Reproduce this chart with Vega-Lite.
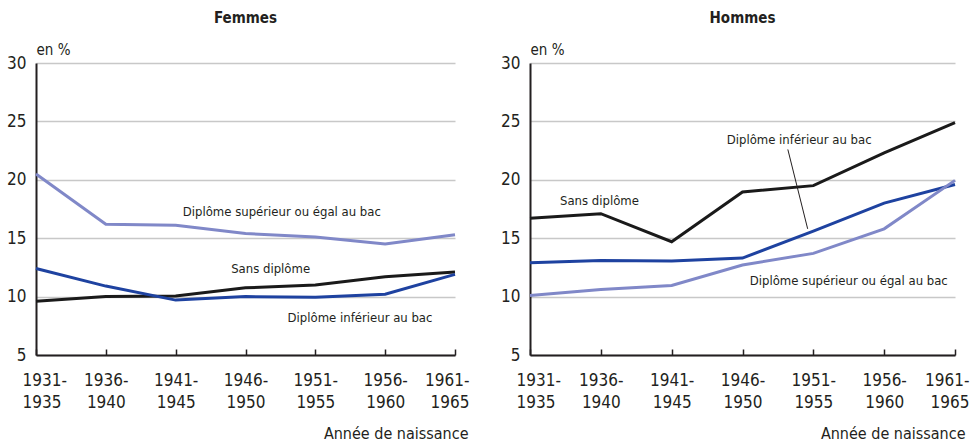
{
  "$schema": "https://vega.github.io/schema/vega-lite/v6.json",
  "background": "white",
  "padding": {"left": 6, "top": 11, "right": 5, "bottom": 0},
  "bounds": "flush",
  "spacing": 75,
  "config": {
    "font": "DejaVu Sans Condensed, Liberation Sans, sans-serif",
    "view": {"stroke": null},
    "axis": {"labelColor": "#231f20", "titleColor": "#231f20", "labelFont": "DejaVu Sans Condensed, Liberation Sans, sans-serif", "titleFont": "DejaVu Sans Condensed, Liberation Sans, sans-serif"},
    "title": {"font": "DejaVu Sans Condensed, Liberation Sans, sans-serif", "color": "#231f20"},
    "text": {"font": "DejaVu Sans Condensed, Liberation Sans, sans-serif"}
  },
  "datasets": {
    "series": [
      {"sexe": "Femmes", "diplome": "Sans diplôme", "annee": 1931, "taux": 9.6},
      {"sexe": "Femmes", "diplome": "Sans diplôme", "annee": 1936, "taux": 10.0},
      {"sexe": "Femmes", "diplome": "Sans diplôme", "annee": 1941, "taux": 10.05},
      {"sexe": "Femmes", "diplome": "Sans diplôme", "annee": 1946, "taux": 10.75},
      {"sexe": "Femmes", "diplome": "Sans diplôme", "annee": 1951, "taux": 11.0},
      {"sexe": "Femmes", "diplome": "Sans diplôme", "annee": 1956, "taux": 11.7},
      {"sexe": "Femmes", "diplome": "Sans diplôme", "annee": 1961, "taux": 12.1},
      {"sexe": "Femmes", "diplome": "Diplôme inférieur au bac", "annee": 1931, "taux": 12.4},
      {"sexe": "Femmes", "diplome": "Diplôme inférieur au bac", "annee": 1936, "taux": 10.9},
      {"sexe": "Femmes", "diplome": "Diplôme inférieur au bac", "annee": 1941, "taux": 9.7},
      {"sexe": "Femmes", "diplome": "Diplôme inférieur au bac", "annee": 1946, "taux": 10.0},
      {"sexe": "Femmes", "diplome": "Diplôme inférieur au bac", "annee": 1951, "taux": 9.95},
      {"sexe": "Femmes", "diplome": "Diplôme inférieur au bac", "annee": 1956, "taux": 10.2},
      {"sexe": "Femmes", "diplome": "Diplôme inférieur au bac", "annee": 1961, "taux": 11.9},
      {"sexe": "Femmes", "diplome": "Diplôme supérieur ou égal au bac", "annee": 1931, "taux": 20.5},
      {"sexe": "Femmes", "diplome": "Diplôme supérieur ou égal au bac", "annee": 1936, "taux": 16.2},
      {"sexe": "Femmes", "diplome": "Diplôme supérieur ou égal au bac", "annee": 1941, "taux": 16.1},
      {"sexe": "Femmes", "diplome": "Diplôme supérieur ou égal au bac", "annee": 1946, "taux": 15.4},
      {"sexe": "Femmes", "diplome": "Diplôme supérieur ou égal au bac", "annee": 1951, "taux": 15.1},
      {"sexe": "Femmes", "diplome": "Diplôme supérieur ou égal au bac", "annee": 1956, "taux": 14.5},
      {"sexe": "Femmes", "diplome": "Diplôme supérieur ou égal au bac", "annee": 1961, "taux": 15.3},
      {"sexe": "Hommes", "diplome": "Sans diplôme", "annee": 1931, "taux": 16.7},
      {"sexe": "Hommes", "diplome": "Sans diplôme", "annee": 1936, "taux": 17.1},
      {"sexe": "Hommes", "diplome": "Sans diplôme", "annee": 1941, "taux": 14.7},
      {"sexe": "Hommes", "diplome": "Sans diplôme", "annee": 1946, "taux": 18.95},
      {"sexe": "Hommes", "diplome": "Sans diplôme", "annee": 1951, "taux": 19.5},
      {"sexe": "Hommes", "diplome": "Sans diplôme", "annee": 1956, "taux": 22.3},
      {"sexe": "Hommes", "diplome": "Sans diplôme", "annee": 1961, "taux": 24.9},
      {"sexe": "Hommes", "diplome": "Diplôme inférieur au bac", "annee": 1931, "taux": 12.9},
      {"sexe": "Hommes", "diplome": "Diplôme inférieur au bac", "annee": 1936, "taux": 13.1},
      {"sexe": "Hommes", "diplome": "Diplôme inférieur au bac", "annee": 1941, "taux": 13.05},
      {"sexe": "Hommes", "diplome": "Diplôme inférieur au bac", "annee": 1946, "taux": 13.3},
      {"sexe": "Hommes", "diplome": "Diplôme inférieur au bac", "annee": 1951, "taux": 15.6},
      {"sexe": "Hommes", "diplome": "Diplôme inférieur au bac", "annee": 1956, "taux": 18.0},
      {"sexe": "Hommes", "diplome": "Diplôme inférieur au bac", "annee": 1961, "taux": 19.6},
      {"sexe": "Hommes", "diplome": "Diplôme supérieur ou égal au bac", "annee": 1931, "taux": 10.1},
      {"sexe": "Hommes", "diplome": "Diplôme supérieur ou égal au bac", "annee": 1936, "taux": 10.6},
      {"sexe": "Hommes", "diplome": "Diplôme supérieur ou égal au bac", "annee": 1941, "taux": 10.95},
      {"sexe": "Hommes", "diplome": "Diplôme supérieur ou égal au bac", "annee": 1946, "taux": 12.7},
      {"sexe": "Hommes", "diplome": "Diplôme supérieur ou égal au bac", "annee": 1951, "taux": 13.7},
      {"sexe": "Hommes", "diplome": "Diplôme supérieur ou égal au bac", "annee": 1956, "taux": 15.8},
      {"sexe": "Hommes", "diplome": "Diplôme supérieur ou égal au bac", "annee": 1961, "taux": 19.95}
    ],
    "notes": [
      {"sexe": "Femmes", "texte": "Diplôme supérieur ou égal au bac", "nx": 1948.6, "ny": 17.25},
      {"sexe": "Femmes", "texte": "Sans diplôme", "nx": 1947.8, "ny": 12.4},
      {"sexe": "Femmes", "texte": "Diplôme inférieur au bac", "nx": 1954.2, "ny": 8.15},
      {"sexe": "Hommes", "texte": "Sans diplôme", "nx": 1935.9, "ny": 18.2},
      {"sexe": "Hommes", "texte": "Diplôme inférieur au bac", "nx": 1950.0, "ny": 23.45},
      {"sexe": "Hommes", "texte": "Diplôme supérieur ou égal au bac", "nx": 1953.5, "ny": 11.3}
    ],
    "leaders": [
      {"sexe": "Hommes", "x1": 1949.2, "y1": 22.6, "x2": 1950.6, "y2": 15.8}
    ]
  },
  "hconcat": [
    {
      "width": 419,
      "height": 292,
      "title": {"text": "Femmes", "fontSize": 15, "fontWeight": "bold", "anchor": "middle", "offset": 16},
      "layer": [
        {
          "data": {"name": "series"},
          "transform": [{"filter": "datum.sexe === 'Femmes'"}],
          "mark": {"type": "line", "strokeWidth": 3},
          "encoding": {
            "x": {"field": "annee", "type": "quantitative", "scale": {"domain": [1931, 1961], "nice": false, "zero": false},
              "axis": {"values": [1931, 1936, 1941, 1946, 1951, 1956, 1961], "labelExpr": "[datum.value + '-', '' + (datum.value + 4)]", "labelFontSize": 17, "labelLineHeight": 22, "labelFlush": true, "labelFlushOffset": 14, "labelPadding": 23, "tickSize": -6, "tickColor": "#231f20", "tickWidth": 1.5, "domainColor": "#231f20", "domainWidth": 2, "grid": false, "zindex": 1, "title": "Année de naissance", "titleFontSize": 16, "titleFontWeight": "normal", "titleAnchor": "end", "titleAlign": "right", "titleX": 432, "titleY": 83, "titleBaseline": "alphabetic"}},
            "y": {"field": "taux", "type": "quantitative", "scale": {"domain": [5, 30], "nice": false, "zero": false},
              "axis": {"values": [5, 10, 15, 20, 25, 30], "labelFontSize": 17, "labelPadding": 10, "ticks": false, "tickSize": 0, "domainColor": "#231f20", "domainWidth": 2, "grid": true, "gridColor": "#c8c8c8", "gridWidth": 1.3, "title": "en %", "titleAngle": 0, "titleFontSize": 15, "titleFontWeight": "normal", "titleAlign": "left", "titleX": 0, "titleY": -9, "titleBaseline": "alphabetic"}},
            "color": {"field": "diplome", "type": "nominal", "legend": null,
              "scale": {"domain": ["Sans diplôme", "Diplôme inférieur au bac", "Diplôme supérieur ou égal au bac"], "range": ["#1a1a1a", "#1e42a0", "#8088c8"]}}
          }
        },
        {
          "data": {"name": "notes"},
          "transform": [{"filter": "datum.sexe === 'Femmes'"}],
          "mark": {"type": "text", "fontSize": 13, "color": "#231f20", "align": "center", "baseline": "middle"},
          "encoding": {
            "x": {"field": "nx", "type": "quantitative"},
            "y": {"field": "ny", "type": "quantitative"},
            "text": {"field": "texte"}
          }
        }
      ]
    },
    {
      "width": 425,
      "height": 292,
      "title": {"text": "Hommes", "fontSize": 15, "fontWeight": "bold", "anchor": "middle", "offset": 16},
      "layer": [
        {
          "data": {"name": "series"},
          "transform": [{"filter": "datum.sexe === 'Hommes'"}],
          "mark": {"type": "line", "strokeWidth": 3},
          "encoding": {
            "x": {"field": "annee", "type": "quantitative", "scale": {"domain": [1931, 1961], "nice": false, "zero": false},
              "axis": {"values": [1931, 1936, 1941, 1946, 1951, 1956, 1961], "labelExpr": "[datum.value + '-', '' + (datum.value + 4)]", "labelFontSize": 17, "labelLineHeight": 22, "labelFlush": true, "labelFlushOffset": 14, "labelPadding": 23, "tickSize": -6, "tickColor": "#231f20", "tickWidth": 1.5, "domainColor": "#231f20", "domainWidth": 2, "grid": false, "zindex": 1, "title": "Année de naissance", "titleFontSize": 16, "titleFontWeight": "normal", "titleAnchor": "end", "titleAlign": "right", "titleX": 435, "titleY": 83, "titleBaseline": "alphabetic"}},
            "y": {"field": "taux", "type": "quantitative", "scale": {"domain": [5, 30], "nice": false, "zero": false},
              "axis": {"values": [5, 10, 15, 20, 25, 30], "labelFontSize": 17, "labelPadding": 10, "ticks": false, "tickSize": 0, "domainColor": "#231f20", "domainWidth": 2, "grid": true, "gridColor": "#c8c8c8", "gridWidth": 1.3, "title": "en %", "titleAngle": 0, "titleFontSize": 15, "titleFontWeight": "normal", "titleAlign": "left", "titleX": 0, "titleY": -9, "titleBaseline": "alphabetic"}},
            "color": {"field": "diplome", "type": "nominal", "legend": null,
              "scale": {"domain": ["Sans diplôme", "Diplôme inférieur au bac", "Diplôme supérieur ou égal au bac"], "range": ["#1a1a1a", "#1e42a0", "#8088c8"]}}
          }
        },
        {
          "data": {"name": "leaders"},
          "transform": [{"filter": "datum.sexe === 'Hommes'"}],
          "mark": {"type": "rule", "strokeWidth": 1, "color": "#231f20"},
          "encoding": {
            "x": {"field": "x1", "type": "quantitative"},
            "x2": {"field": "x2"},
            "y": {"field": "y1", "type": "quantitative"},
            "y2": {"field": "y2"}
          }
        },
        {
          "data": {"name": "notes"},
          "transform": [{"filter": "datum.sexe === 'Hommes'"}],
          "mark": {"type": "text", "fontSize": 13, "color": "#231f20", "align": "center", "baseline": "middle"},
          "encoding": {
            "x": {"field": "nx", "type": "quantitative"},
            "y": {"field": "ny", "type": "quantitative"},
            "text": {"field": "texte"}
          }
        }
      ]
    }
  ]
}
